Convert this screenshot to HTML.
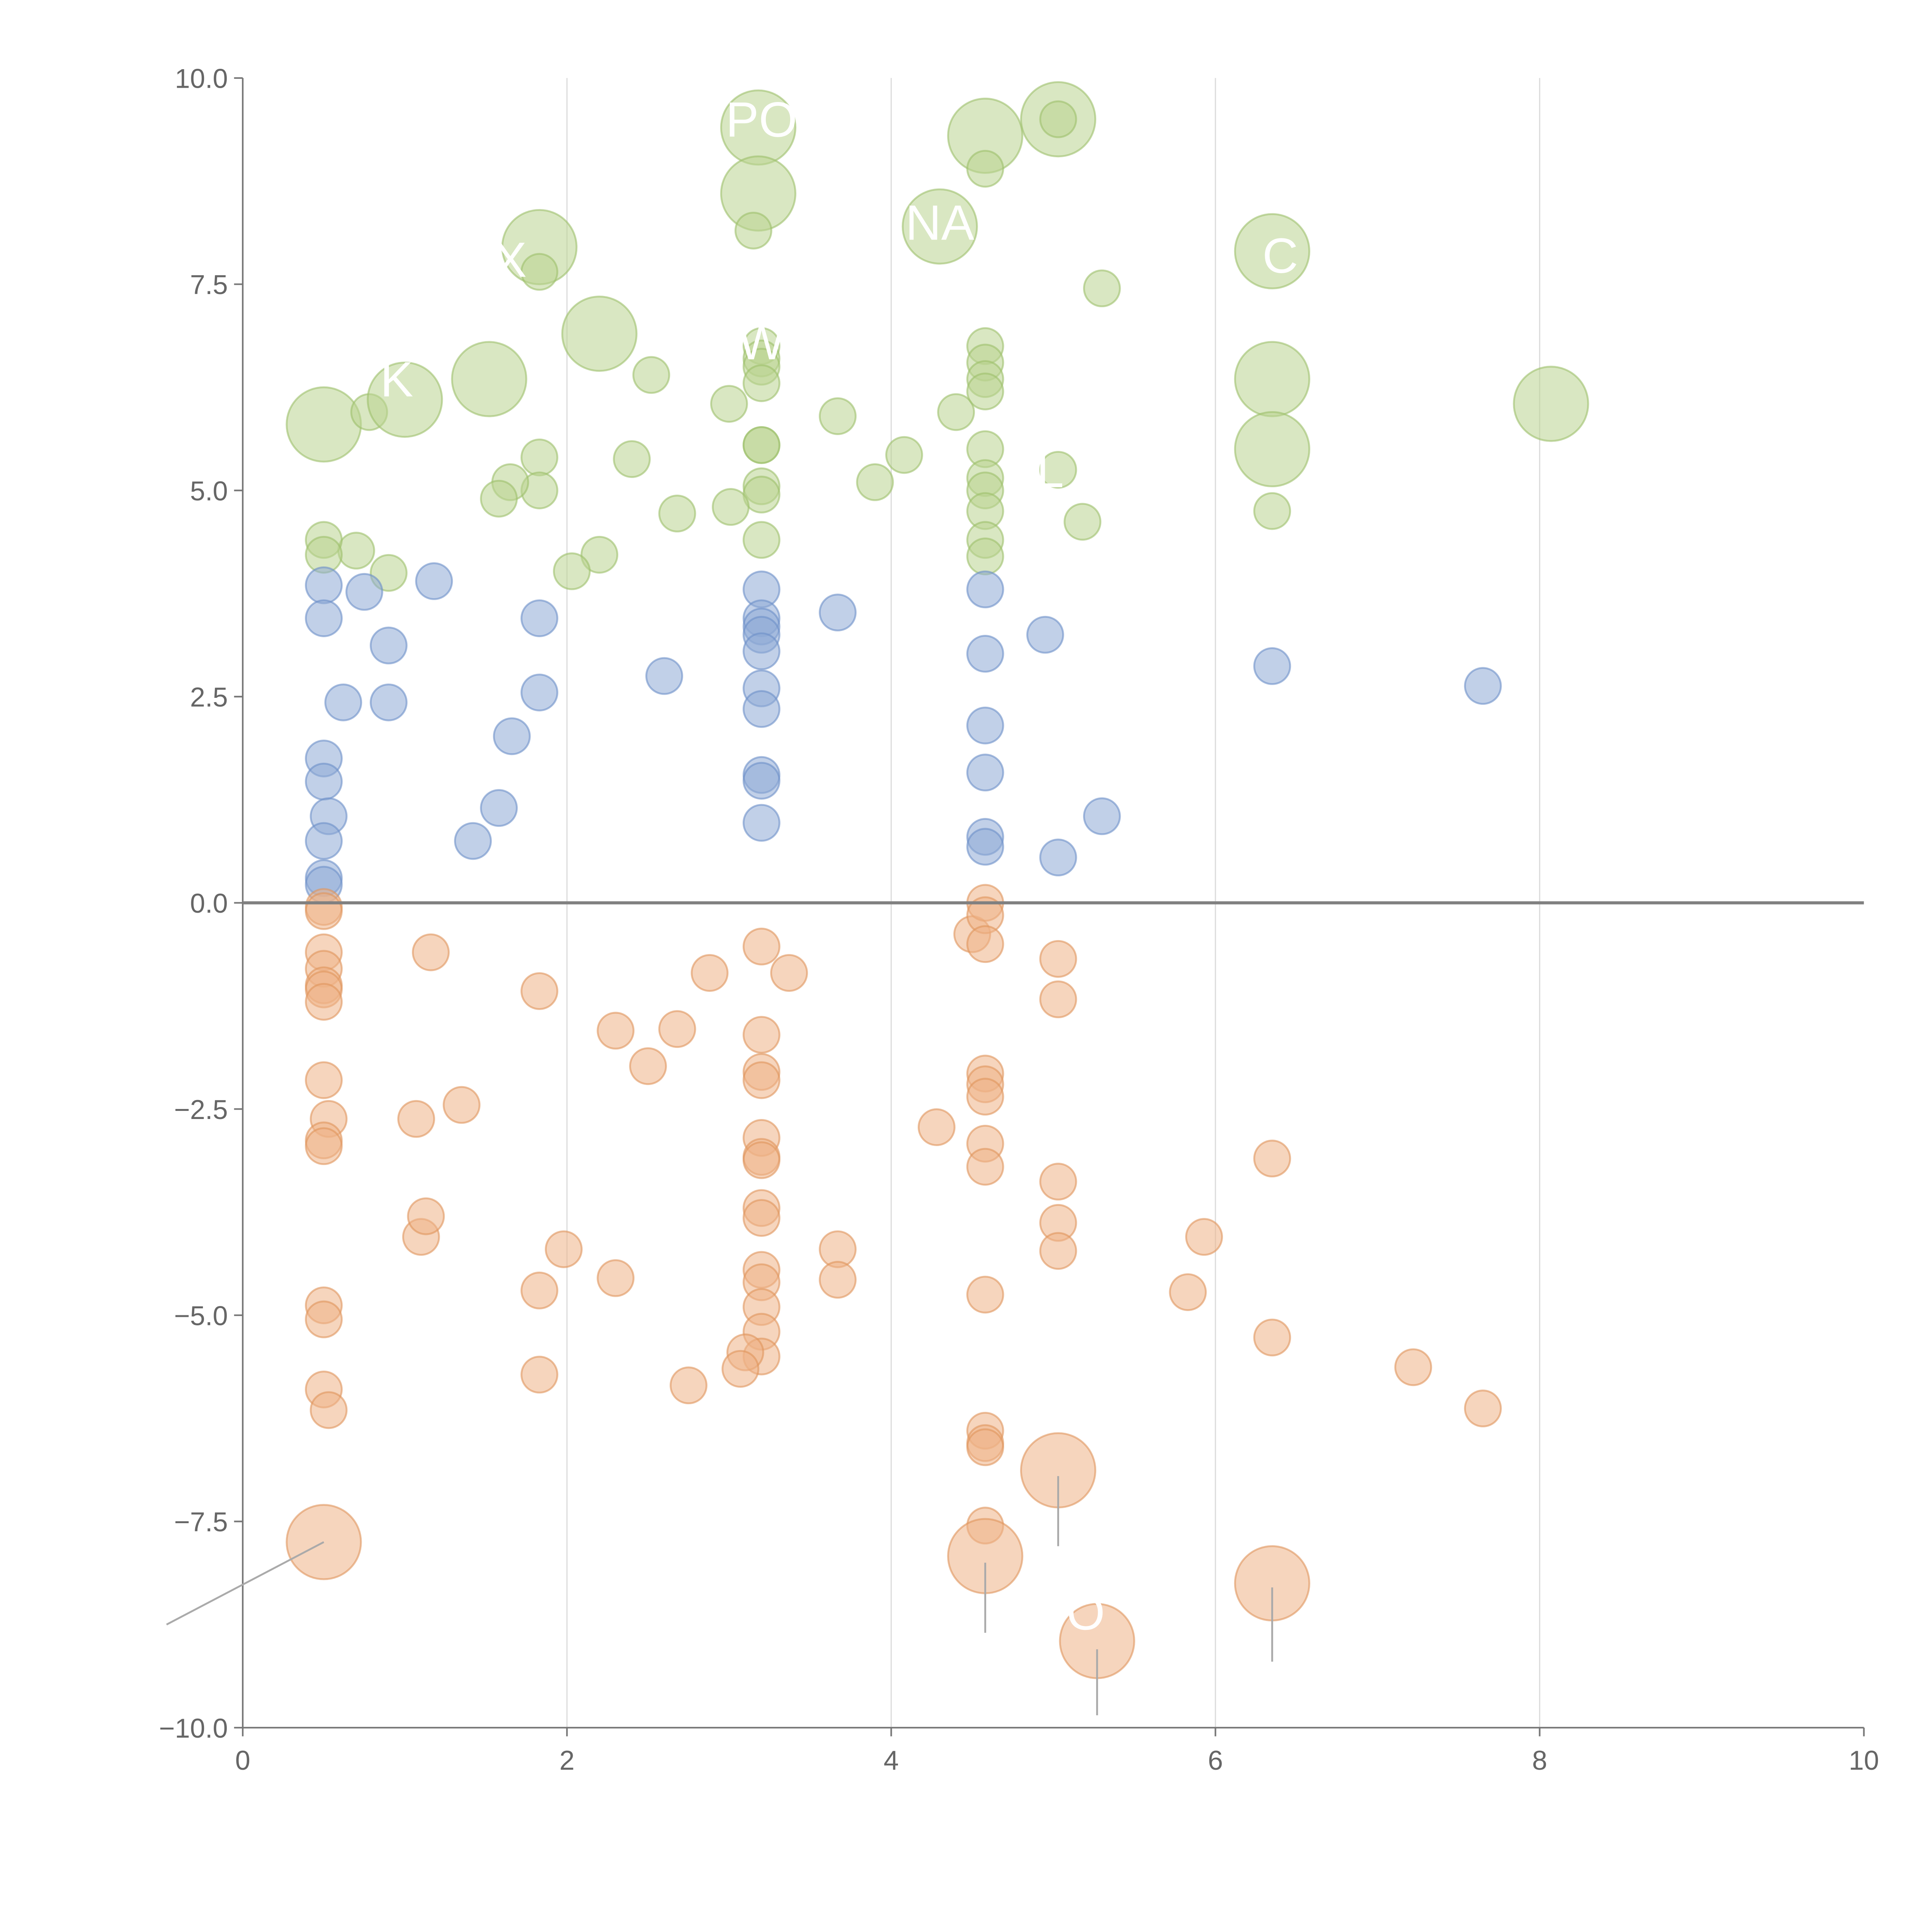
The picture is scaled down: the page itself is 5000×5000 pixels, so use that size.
<!DOCTYPE html>
<html><head><meta charset="utf-8"><style>html,body{margin:0;padding:0;background:#fff}svg{display:block}</style></head>
<body>
<svg id="chart" width="5000" height="5000" viewBox="0 0 1560 1560" xmlns="http://www.w3.org/2000/svg" font-family="Liberation Sans, sans-serif">
</svg>
<script>
const xTicks=[0,2,4,6,8,10];
const yTicks=[-10,-7.5,-5,-2.5,0,2.5,5,7.5,10];
const yTickLabels=["\u221210.0","\u22127.5","\u22125.0","\u22122.5","0.0","2.5","5.0","7.5","10.0"];
const greenX=[0.5,0.78,1.0,1.52,1.83,1.83,2.2,2.52,3.18,3.18,3.15,4.58,4.58,5.03,5.03,4.3,6.35,5.3,6.35,6.35,8.07,6.35,3.2,3.2,3.2,3.2,3.0,3.2,3.2,3.2,3.2,3.2,3.67,3.9,4.08,4.4,4.58,4.58,4.58,4.58,4.58,4.58,4.58,4.58,4.58,4.58,5.03,5.18,3.01,2.68,2.4,2.2,2.03,1.83,1.83,1.65,1.58,0.9,0.7,0.5,0.5];
const greenY=[5.8,5.95,6.1,6.35,7.95,7.65,6.9,6.4,9.4,8.6,8.15,9.3,8.9,9.5,9.5,8.2,7.9,7.45,6.35,5.5,6.05,4.75,6.75,6.6,6.5,6.3,6.05,5.55,5.55,5.05,4.95,4.4,5.9,5.1,5.43,5.95,6.75,6.55,6.35,6.2,5.5,5.15,5.0,4.75,4.4,4.2,5.25,4.62,4.8,4.72,5.38,4.22,4.02,5.4,5.0,5.1,4.9,4.0,4.27,4.4,4.22];
const greenSize=[2,1,2,2,2,1,2,1,2,2,1,2,1,2,1,2,2,1,2,2,2,1,1,1,1,1,1,1,1,1,1,1,1,1,1,1,1,1,1,1,1,1,1,1,1,1,1,1,1,1,1,1,1,1,1,1,1,1,1,1,1];
const blueX=[0.5,0.5,0.75,1.18,0.9,0.62,0.9,1.83,1.83,1.66,2.6,3.2,3.2,3.2,3.2,3.2,3.2,3.2,3.2,3.2,3.2,3.67,4.58,4.58,4.58,4.58,4.58,4.58,4.95,5.03,5.3,6.35,7.65,0.5,0.5,0.53,0.5,0.5,0.5,1.42,1.58];
const blueY=[3.85,3.45,3.77,3.9,3.12,2.43,2.43,3.45,2.55,2.02,2.75,3.8,3.45,3.35,3.25,3.05,2.6,2.35,1.55,1.48,0.97,3.52,3.8,3.02,2.15,1.58,0.8,0.68,3.25,0.55,1.05,2.87,2.63,1.75,1.47,1.05,0.75,0.3,0.22,0.75,1.15];
const orangeX=[0.5,0.5,0.5,0.5,0.5,0.5,0.5,1.16,1.83,2.3,2.5,2.68,2.88,3.2,3.37,3.2,3.2,3.2,3.2,3.2,3.2,3.2,3.2,3.2,3.2,3.2,3.2,3.2,3.1,3.07,2.75,1.98,2.3,1.83,1.83,1.1,1.13,1.07,1.35,0.5,0.53,0.5,0.5,0.5,0.5,0.5,0.53,0.5,3.67,3.67,4.28,4.5,4.58,4.58,4.58,4.58,4.58,4.58,4.58,4.58,4.58,4.58,4.58,4.58,4.58,4.58,5.03,5.03,5.03,5.03,5.03,5.03,5.27,5.83,5.93,6.35,6.35,6.35,7.22,7.65];
const orangeY=[-0.05,-0.1,-0.6,-0.8,-1.0,-1.05,-1.2,-0.6,-1.07,-1.55,-1.98,-1.53,-0.85,-0.53,-0.85,-1.6,-2.05,-2.15,-2.85,-3.08,-3.12,-3.7,-3.82,-4.45,-4.6,-4.9,-5.2,-5.5,-5.45,-5.65,-5.85,-4.2,-4.55,-4.7,-5.72,-4.05,-3.8,-2.62,-2.45,-2.15,-2.62,-2.88,-2.95,-4.88,-5.05,-5.9,-6.15,-7.75,-4.2,-4.57,-2.72,-0.38,0.0,-0.15,-0.5,-2.07,-2.2,-2.35,-2.92,-3.2,-4.75,-6.4,-6.55,-6.6,-7.55,-7.92,-0.68,-1.17,-3.38,-3.88,-4.22,-6.88,-8.95,-4.72,-4.05,-3.1,-5.27,-8.25,-5.63,-6.13];
const orangeBig=[47,65,71,72,77];
const labelText=["K","X","PO","NA","W","C","L","O"];
const labelX=[0.95,1.65,3.2,4.3,3.2,6.4,4.98,5.2];
const labelY=[6.35,7.8,9.5,8.25,6.8,7.85,5.25,-8.6];

const svg=document.getElementById('chart');
const NS='http://www.w3.org/2000/svg';
const X0=196,X1=1505,Y0=1395,Y1=63;
const sx=v=>X0+(v-0)/(10-0)*(X1-X0);
const sy=v=>Y0-(v+10)/20*(Y0-Y1);
function mk(tag,attrs){const e=document.createElementNS(NS,tag);for(const k in attrs)e.setAttribute(k,attrs[k]);svg.appendChild(e);return e;}

// gridlines
xTicks.slice(1,5).forEach(t=>{
  const g=mk('line',{x1:sx(t),x2:sx(t),y1:Y1,y2:Y0,stroke:'#dddddd','stroke-width':1});
  
  
});
// axes
let ax=mk('line',{x1:X0,x2:X0,y1:Y1,y2:Y0,stroke:'#777','stroke-width':1.3});


ax=mk('line',{x1:X0,x2:X1,y1:Y0,y2:Y0,stroke:'#777','stroke-width':1.3});


xTicks.forEach(t=>{
  const l=mk('line',{x1:sx(t),x2:sx(t),y1:Y0,y2:Y0+7,stroke:'#777','stroke-width':1.3});
  
  
  const tx=mk('text',{x:sx(t),y:Y0+34,'text-anchor':'middle','font-size':22,fill:'#666'});
  tx.textContent=String(t);
  
  
});
yTicks.forEach((t,i)=>{
  const l=mk('line',{x1:X0-7,x2:X0,y1:sy(t),y2:sy(t),stroke:'#777','stroke-width':1.3});
  
  
  const tx=mk('text',{x:X0-12,y:sy(t)+8,'text-anchor':'end','font-size':22,fill:'#666'});
  tx.textContent=yTickLabels[i];
  
  
});
function dots(xs,ys,sizes,fill,stroke,name){
  xs.forEach((x,i)=>{
    const r=sizes(i)===2?30:14.5;
    const c=mk('circle',{cx:sx(x),cy:sy(ys[i]),r:r,fill:fill,'fill-opacity':0.55,stroke:stroke,'stroke-opacity':0.6,'stroke-width':1.5});
    
    
  });
}
dots(greenX,greenY,i=>greenSize[i],'#b9d38f','#9cc06a','green-point');
dots(blueX,blueY,i=>1,'#8eaad6','#6d8fc8','blue-point');
dots(orangeX,orangeY,i=>orangeBig.includes(i)?2:1,'#eeb386','#e0955c','orange-point');
// zero line
const z=mk('line',{x1:X0,x2:X1,y1:sy(0),y2:sy(0),stroke:'#808080','stroke-width':2.5});


// leader lines
const lead=[[0.5,-7.75,-0.47,-8.75],[4.58,-8.0,4.58,-8.85],[5.03,-6.95,5.03,-7.8],[5.27,-9.05,5.27,-9.85],[6.35,-8.3,6.35,-9.2]];
lead.forEach(p=>{
  const l=mk('line',{x1:sx(p[0]),y1:sy(p[1]),x2:sx(p[2]),y2:sy(p[3]),stroke:'#aaa','stroke-width':1.5});
  
  
});
labelText.forEach((t,i)=>{
  const tx=mk('text',{x:sx(labelX[i]),y:sy(labelY[i])+14,'text-anchor':'middle','font-size':40,fill:'#ffffff'});
  tx.textContent=t;
  
  
});
</script>
</body></html>
